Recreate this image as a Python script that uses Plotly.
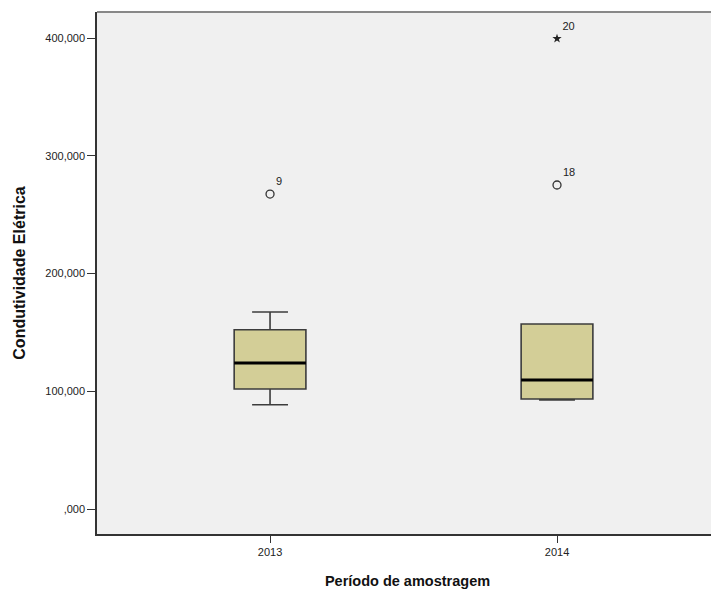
import plotly.graph_objects as go

categories = ["2013", "2014"]
cat_pos = [0, 1]
q1 = [101900, 93400]
median = [124000, 109600]
q3 = [152300, 157100]
lower_whisker = [88600, 92600]
upper_whisker = [167300, 157100]

outlier_cat = [0, 1]
outlier_val = [267500, 275200]
outlier_lbl = ["9", "18"]

extreme_cat = [1]
extreme_val = [399500]
extreme_lbl = ["20"]

y_tickvals = [0, 100000, 200000, 300000, 400000]
y_ticktext = [",000", "100,000", "200,000", "300,000", "400,000"]

BOX_W = 0.25
FONT = "Liberation Sans, Arial, sans-serif"

fig = go.Figure()
fig.add_trace(go.Box(
    x=cat_pos, q1=q1, median=median, q3=q3,
    lowerfence=lower_whisker, upperfence=upper_whisker,
    width=BOX_W, whiskerwidth=0.5,
    fillcolor="#D3CE97", line=dict(color="#3c3c3c", width=1.6),
    boxpoints=False, showlegend=False, hoverinfo="skip",
))
# thick median lines
mx, my = [], []
for c, m in zip(cat_pos, median):
    mx += [c - BOX_W / 2, c + BOX_W / 2, None]
    my += [m, m, None]
fig.add_trace(go.Scatter(x=mx, y=my, mode="lines",
                         line=dict(color="black", width=3),
                         showlegend=False, hoverinfo="skip"))
fig.add_trace(go.Scatter(
    x=outlier_cat, y=outlier_val, mode="markers+text",
    marker=dict(symbol="circle-open", size=8, color="#333333", line=dict(width=1.3)),
    text=outlier_lbl, textposition="top right",
    textfont=dict(family=FONT, size=11, color="#222222"),
    showlegend=False, hoverinfo="skip"))
fig.add_trace(go.Scatter(
    x=extreme_cat, y=extreme_val, mode="markers+text",
    marker=dict(symbol="star", size=7, color="#222222"),
    text=extreme_lbl, textposition="top right",
    textfont=dict(family=FONT, size=11, color="#222222"),
    showlegend=False, hoverinfo="skip"))

fig.update_layout(
    width=711, height=584,
    margin=dict(l=89, r=1, t=4, b=58),
    paper_bgcolor="white", plot_bgcolor="#F0F0F0",
    font=dict(family=FONT, size=11, color="#222222"),
    xaxis=dict(
        range=[-0.603, 1.561], tickvals=cat_pos, ticktext=categories,
        showgrid=False, zeroline=False, showline=True, linecolor="#333333", linewidth=1.5,
        ticks="outside", ticklen=7, tickcolor="#333333",
        title=dict(text="<b>Período de amostragem</b>", font=dict(size=14.5, color="#111111"), standoff=19),
    ),
    yaxis=dict(
        range=[-21200, 422100], tickvals=y_tickvals, ticktext=y_ticktext,
        showgrid=False, zeroline=False, showline=True, linecolor="#333333", linewidth=1.5,
        ticks="outside", ticklen=8, tickcolor="#333333",
        title=dict(text="<b>Condutividade Elétrica</b>", font=dict(size=16, color="#111111"), standoff=16),
    ),
    shapes=[dict(type="line", xref="paper", yref="paper", x0=0, x1=1, y0=1, y1=1,
                 line=dict(color="#888888", width=2))],
)
fig.write_html("out.html")
